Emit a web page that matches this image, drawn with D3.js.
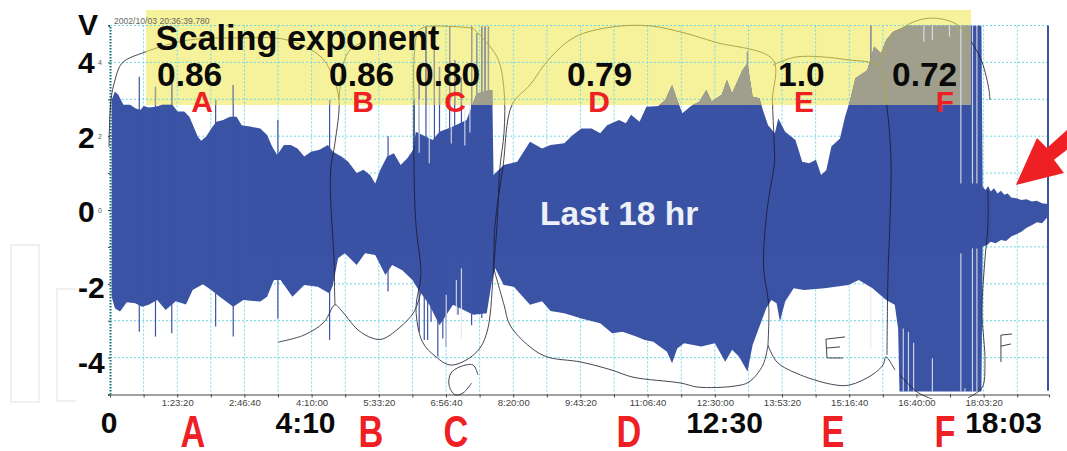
<!DOCTYPE html>
<html><head><meta charset="utf-8">
<script src="https://cdn.jsdelivr.net/npm/d3@7"></script>
<style>html,body{margin:0;padding:0;background:#fff}svg{display:block;font-family:"Liberation Sans",Arial,sans-serif}</style>
</head><body><svg id="c" width="1067" height="451"></svg>
<script>
// time is in minutes, amplitude in volts
const upperEnvelope=[[2,2.98],[6.1,3.21],[10.3,3.12],[16.6,2.85],[25,2.85],[31.3,2.76],[37.6,2.71],[41.8,2.82],[48,2.78],[56.4,2.8],[64.8,2.85],[77.4,2.85],[83.7,2.67],[92,2.67],[98.4,2.53],[104.6,2.21],[108.8,1.99],[113,1.88],[119.3,1.99],[125.6,2.21],[131.9,2.39],[140.3,2.44],[148.7,2.53],[157,2.53],[163.3,2.3],[173.8,2.26],[186.4,2.21],[194.8,2.03],[201,1.72],[207.3,1.49],[215.7,1.76],[224.1,1.76],[232.5,1.67],[240.9,1.45],[249.3,1.58],[259.8,1.63],[270.2,1.76],[276.5,1.58],[287,1.45],[295.4,1.31],[305.9,1],[314.2,1.09],[322.6,.95],[328.9,.72],[335.2,1.09],[343.6,1.45],[352,1.54],[360.4,1.22],[368.7,1.4],[375.9,1.63],[379.2,2.12],[400.2,1.9],[408.6,2.12],[425.3,2.26],[442.1,2.44],[448.4,2.8],[454.7,3.16],[471.4,3.25],[474,3.25],[475.6,.95],[488.2,1.22],[505,1.31],[520.8,1.85],[535.7,1.67],[546.3,1.76],[563.3,1.81],[573.9,2.03],[584.5,2.21],[597.2,2.21],[607.9,2.08],[616.4,2.3],[631.2,2.44],[639.7,2.35],[646.1,2.58],[656.7,2.39],[665.2,2.8],[680,2.82],[688.6,2.98],[697,3.39],[703.4,2.98],[709.8,2.62],[720.4,2.82],[731,2.94],[739.5,3.25],[745.9,2.94],[758.6,3.12],[765,3.52],[771.4,3.16],[784.1,3.79],[790.5,3.97],[796.9,3.07],[805.3,3.03],[809.6,2.71],[816,2.3],[824.5,2.08],[828.7,2.48],[837.2,2.12],[850,1.9],[858.4,1.31],[866.9,1.27],[875.4,1.36],[881.8,.95],[888.2,1.08],[894.5,1.72],[905.2,1.94],[911.5,2.53],[917.9,2.98],[924.3,3.57],[939.1,3.79],[947.6,4.43],[956.1,4.25],[962.5,4.61],[971,4.83],[988,4.99],[1080.6,4.99],[1082.2,.63],[1085.6,.54],[1089,.65],[1092,.5],[1096.3,.59],[1100.5,.45],[1104.8,.52],[1109,.41],[1113.3,.45],[1117.5,.34],[1123.9,.32],[1130.2,.27],[1136.6,.29],[1143,.23],[1149.4,.25],[1155.7,.18],[1163,.16]];
const lowerEnvelope=[[2,-2.35],[6.1,-2.66],[12.4,-2.75],[20.8,-2.5],[31.3,-2.53],[39.7,-2.62],[48,-2.57],[58.5,-2.44],[69,-2.71],[81.6,-2.47],[94.2,-2.56],[102.5,-2.17],[115.1,-2.01],[125.6,-2.17],[136.1,-2.35],[152.8,-2.62],[165.4,-2.44],[186.4,-2.48],[194.8,-2.35],[203.2,-1.9],[211.5,-1.9],[226.2,-2.35],[240.9,-2.03],[257.6,-2.08],[272.3,-2.26],[276.5,-2.03],[282.8,-1.31],[291.2,-1.17],[305.9,-1.49],[316.3,-1.17],[328.9,-1.22],[341.5,-1.76],[349.9,-1.49],[362.4,-1.63],[375,-1.9],[381.3,-2.12],[396,-2.57],[408.6,-3.12],[425.3,-2.57],[450.5,-2.84],[467.2,-2.8],[473.5,-1.94],[477.7,-1.58],[488.2,-2.03],[500.8,-2.08],[520.8,-2.57],[535.7,-2.47],[546.3,-2.74],[563.3,-2.8],[584.5,-2.94],[607.9,-3.07],[622.7,-3.34],[635.5,-3.3],[652.5,-3.43],[663.1,-3.52],[673.7,-3.57],[690.7,-3.84],[697,-4.15],[703.4,-3.75],[711.9,-3.61],[733.2,-3.7],[750.1,-3.61],[762.9,-4.11],[771.4,-3.79],[779.9,-3.97],[790.5,-4.38],[796.9,-3.66],[813.8,-2.66],[820.2,-2.44],[826.6,-2.53],[830.8,-3.02],[837.2,-2.48],[847.8,-2.12],[860.6,-2.17],[886,-2.12],[915.8,-2.03],[928.5,-1.9],[945.5,-2.12],[962.5,-2.44],[973.1,-2.57],[977.3,-3.21],[979,-4.92],[1080.6,-4.92],[1082.2,-.99],[1087.8,-.95],[1092,-.86],[1098.4,-.9],[1104.8,-.81],[1111.1,-.84],[1117.5,-.72],[1123.9,-.66],[1130.2,-.59],[1136.6,-.48],[1143,-.41],[1149.4,-.33],[1155.7,-.36],[1163,-.18]];
const upSpikes=[[36.3,3.61],[56.4,3.34],[76.6,3.43],[131,2.98],[152.8,3.39],[208.2,2.44],[272.3,2.98],[344.8,2],[377.1,2.98],[383.4,3.43],[391.8,4.97],[402.3,4.61],[408.6,3.88],[421.1,4.97],[427.4,4.06],[435.8,3.6],[448.4,4.97],[454.7,4.79],[461,4.97],[465.1,4.97],[469.3,4.97],[790.5,4.29],[943.4,4.99]];
const downSpikes=[[36.3,-3.3],[56.4,-3.43],[76.6,-3.34],[131,-3.16],[152.8,-3.43],[208.2,-2.94],[272.3,-3.52],[344.8,-2.21],[383.4,-3.3],[389.7,-3.52],[393.9,-3.52],[398.1,-3.03],[406.5,-3.97],[412.7,-3.48],[416.9,-3.7],[431.6,-2.84],[448.4,-3.12],[461,-2.93]];
const lightStripes=[[395.9,3,1.27],[383.4,3,1.55],[423.2,2.9,1.8],[440,2.9,1.75],[446.3,2.9,2.1],[435.8,-1.58,-3.48],[416.9,-2.3,-3.7],[429.5,-1.9,-2.84],[943.4,-2.1,-3.75],[983.7,-3.21,-4.92],[990.1,-3.3,-4.92],[996.5,-3.6,-4.92],[1019.8,-4.02,-4.92],[1060.2,-4.83,-4.92],[1055.1,-1.17,-4.92],[1069.5,-1.04,-4.92],[1075,-1.04,-4.92],[1009.2,4.99,4.56],[1019.8,4.99,4.6],[1041,4.99,4.7],[1055.1,4.99,.72],[1069.5,4.99,.72],[1075,4.99,.72]];
const timeTicks=[83.333,166.667,250,333.333,416.667,500,583.333,666.667,750,833.333,916.667,1000,1083.333];
const smallVoltTicks=[4,2,0];
const sketchCurves=[
[[-1.2,1.71],[1.2,2.98],[6.2,3.52],[14.9,3.98],[43.4,4.28],[98,4.61],[161,4.66],[219.5,4.61],[261.6,4.15],[276.5,3.6],[284,2.98],[279,1.82],[274,1.17],[273.5,.35],[275.3,-.41],[277.8,-1.3],[278.6,-2.3],[279,-2.57]],
[[208.3,-3.58],[240.6,-3.39],[265.4,-3.04],[279,-2.57],[286.4,-2.71],[307.5,-3.25],[324.9,-3.47],[337.3,-3.5],[358.4,-3.2],[377,-2.76],[385.6,-2.22]],
[[284,2.98],[289,3.93],[297.6,4.34],[316,4.58]],
[[450.1,4.93],[390.6,4.96],[381.9,4.82],[377,4.07],[377,2.85],[377,1.08],[379.4,-.41],[385.6,-1.76],[379.4,-2.66],[387.6,-3.58],[404.2,-3.98],[421.6,-4.2],[441.4,-4.07],[458.8,-3.74],[468.7,-3.2],[475.7,-1.57],[479.9,-.41],[483.6,1.17],[488.6,2.09],[488.6,3.25],[479.9,4.15],[450.1,4.93]],
[[475.7,-1.57],[477.4,-.41],[487.3,1.17],[498.5,2.85],[520.8,3.39],[545.6,4.12],[576.6,4.69],[622.5,4.96],[669.6,4.99],[711.8,4.8],[750.2,4.55],[822.1,4.07],[821.5,2.98],[823.4,1.9],[824,1.27],[818.4,.54],[813.4,-.27],[810.5,-1.57],[816.8,-2.57],[815.9,-3.66]],
[[475.7,-1.57],[488.6,-2.57],[496,-3.12],[520.8,-3.71],[541.9,-3.98],[584,-4.12],[622.5,-4.34],[648.5,-4.53],[708,-4.69],[729.1,-4.8],[775,-4.77],[792.4,-4.66],[809.7,-4.2],[815.9,-3.66]],
[[822.1,3.93],[851.9,4.15],[915.1,4.07],[953.6,3.88],[962.2,2.98],[968.4,1.44],[967.2,-.27],[964.7,-1.79],[963.5,-3.93]],
[[815.9,-3.66],[827.1,-4.12],[856.2,-4.47],[899,-4.74],[917.6,-4.74],[944.9,-4.47],[958.5,-4.2],[962.2,-3.98],[973.4,-4.34]],
[[979.6,-4.47],[1000.7,-4.93],[1019.3,-5.12]],
[[1063.9,-5.09],[1081.3,-4.82],[1085,-4.12],[1081.3,-2.74],[1085,-1.33],[1088.7,-.41],[1088.7,.54]],
[[1091.2,2.98],[1090,3.25],[1081.3,4.01],[1068.9,4.53],[1051.5,5.01],[1030.4,5.18],[1009.4,5.18],[988.3,5.01],[970.9,4.69],[953.6,3.93]],
[[448.4,-4.69],[437.7,-4.96],[427.8,-5.01],[420.4,-4.74],[422.8,-4.42],[434,-4.25],[450.1,-4.2],[456.3,-4.47]]];
const sketchLetters=[
[[911.4,-3.44],[887.8,-3.5],[889.1,-4.01],[908.9,-4.01]],[[889.1,-3.74],[905.2,-3.71]],
[[1118.5,-3.36],[1104.8,-3.39],[1104.8,-4.12]],[[1104.8,-3.69],[1117.2,-3.63]]];
const arrowShape=[[1123.4,.68],[1149.5,1.95],[1161.9,1.68],[1186.7,2.17],[1186.7,1.63],[1170.6,1.36],[1183,1]];
const exponentLabels=["0.86","0.86","0.80","0.79","1.0","0.72"];
const exponentX=[157,329,415,567,778,892];
const segmentNames=["A","B","C","D","E","F"];
const segmentX=[202,363,455,599,804,945];
const segmentBottomX=[193,371,456,629,833,945];
const voltLabels=[["V",35],["4",73],["2",148],["0",222],["-2",298],["-4",373]];
const timeLabels=[["0",109],["4:10",305.5],["12:30",724.5],["18:03",1003.5]];

const BLUE="#3b53a4",GRAY="#a09f8e",YELLOW="#f6f19b",RED="#ee2024";
const svg=d3.select("#c");
const x=d3.scaleLinear().domain([0,1164.4]).range([110,1049]);
const y=d3.scaleLinear().domain([-5,5]).range([394.5,25.5]);
const defs=svg.append("defs");
defs.append("clipPath").attr("id","band").append("rect").attr("x",146).attr("y",10).attr("width",825).attr("height",95);
defs.append("clipPath").attr("id","noband").append("path")
  .attr("d","M0,0H1067V451H0ZM146,10V105H971V10Z").attr("clip-rule","evenodd");
const line=d3.line().x(d=>x(d[0])).y(d=>y(d[1]));
const curve=d3.line().x(d=>x(d[0])).y(d=>y(d[1])).curve(d3.curveCatmullRom.alpha(.5));

// ghost outlines of the page behind
svg.append("rect").attr("x",11).attr("y",245).attr("width",28).attr("height",157).attr("fill","none").attr("stroke","#f0f0f0").attr("stroke-width",2);
svg.append("path").attr("d","M76,289H57V401H76").attr("fill","none").attr("stroke","#f0f0f0").attr("stroke-width",2);

svg.append("rect").attr("x",146).attr("y",10).attr("width",825).attr("height",95).attr("fill",YELLOW);

// grid
const gridT=d3.range(1,28).map(i=>i*41.6667);
const gridV=d3.range(-4,6);
const grid=svg.append("g").attr("stroke","#6fd8e8").attr("stroke-width",1).attr("stroke-dasharray","2,2");
grid.selectAll(".gx").data(gridT).join("line").attr("x1",d=>x(d)).attr("x2",d=>x(d)).attr("y1",y(5)).attr("y2",y(-5));
grid.selectAll(".gy").data(gridV).join("line").attr("x1",x(0)).attr("x2",x(1164.4)).attr("y1",d=>y(d)).attr("y2",d=>y(d));

// waveform
function wave(g,color){
  g.append("path").attr("d",line(upperEnvelope.concat(lowerEnvelope.slice().reverse()))+"Z").attr("fill",color);
  g.selectAll(".up").data(upSpikes).join("line").attr("x1",d=>x(d[0])).attr("x2",d=>x(d[0])).attr("y1",y(0)).attr("y2",d=>y(d[1])).attr("stroke",color).attr("stroke-width",1.2);
  g.selectAll(".dn").data(downSpikes).join("line").attr("x1",d=>x(d[0])).attr("x2",d=>x(d[0])).attr("y1",y(0)).attr("y2",d=>y(d[1])).attr("stroke",color).attr("stroke-width",1.2);
}
wave(svg.append("g"),BLUE);
wave(svg.append("g").attr("clip-path","url(#band)"),GRAY);
svg.append("g").selectAll("line").data(lightStripes).join("line")
  .attr("x1",d=>x(d[0])).attr("x2",d=>x(d[0])).attr("y1",d=>y(d[1])).attr("y2",d=>y(d[2]))
  .attr("stroke","#e4e6f2").attr("stroke-width",1.2).attr("opacity",.85);

// right edge and axes
svg.append("line").attr("x1",1048).attr("x2",1048).attr("y1",y(5)).attr("y2",y(-4.9)).attr("stroke",BLUE).attr("stroke-width",2);
const xAxis=d3.axisBottom(x).tickValues(gridT.filter(t=>t<=1164)).tickSize(3)
  .tickFormat(m=>{if(!timeTicks.some(t=>Math.abs(t-m)<.5))return "";const s=Math.round(m*60);return Math.floor(s/3600)+":"+String(Math.floor(s%3600/60)).padStart(2,"0")+":"+String(s%60).padStart(2,"0");});
const gx=svg.append("g").attr("transform","translate(0,394.5)").call(xAxis);
gx.select(".domain").attr("stroke","#444");
gx.selectAll("line").attr("stroke","#444");
gx.selectAll("text").attr("fill","#444").attr("font-size",9.6).attr("font-family","'Liberation Sans',Arial,sans-serif").attr("y",5);
const yAxis=d3.axisLeft(y).tickValues(d3.range(-5,6)).tickSize(2).tickFormat(d=>smallVoltTicks.includes(d)?d:"");
const gy=svg.append("g").attr("transform","translate(110,0)").call(yAxis);
gy.select(".domain").attr("stroke","#0f6f70").attr("stroke-width",2).attr("stroke-dasharray","1.5,1.5");
gy.selectAll("line").attr("stroke","#444");
gy.selectAll("text").attr("fill","#555").attr("font-size",7).attr("font-family","'Liberation Sans',Arial,sans-serif").attr("x",-8);
svg.append("text").attr("x",114).attr("y",23.5).attr("font-size",8.6).attr("fill","#666").text("2002/10/03 20:36:39.780");

// hand drawn contours
function sketch(g,color,w){
  g.selectAll(".c").data(sketchCurves).join("path").attr("d",curve).attr("fill","none").attr("stroke",color).attr("stroke-width",w);
}
sketch(svg.append("g").attr("clip-path","url(#noband)").attr("opacity",.8),"#1a1a2a",1);
sketch(svg.append("g").attr("clip-path","url(#band)"),"#a9a74a",1);
svg.append("g").selectAll("path").data(sketchLetters).join("path").attr("d",line).attr("fill","none").attr("stroke","#444").attr("stroke-width",1);

// arrow
svg.append("path").attr("d",line(arrowShape)+"Z").attr("fill",RED);

// texts
const bold=(t,px,py,size,fill)=>svg.append("text").attr("x",px).attr("y",py).attr("font-size",size).attr("font-weight","700").attr("fill",fill||"#0a0a0a").text(t);
bold("Scaling exponent",155.5,50,34.3);
exponentLabels.forEach((t,i)=>bold(t,exponentX[i],86,33.5));
segmentNames.forEach((t,i)=>{
  bold(t,segmentX[i],112,30,RED).attr("text-anchor","middle");
  svg.append("text").attr("transform",`translate(${segmentBottomX[i]},447) scale(.78,1)`).attr("text-anchor","middle").attr("font-size",44).attr("font-weight","700").attr("fill",RED).text(t);
});
voltLabels.forEach(d=>bold(d[0],78,d[1],30));
timeLabels.forEach(d=>bold(d[0],d[1],433,30).attr("text-anchor","middle"));
bold("Last 18 hr",540,225,33.5,"#eef0f7");
</script></body></html>
